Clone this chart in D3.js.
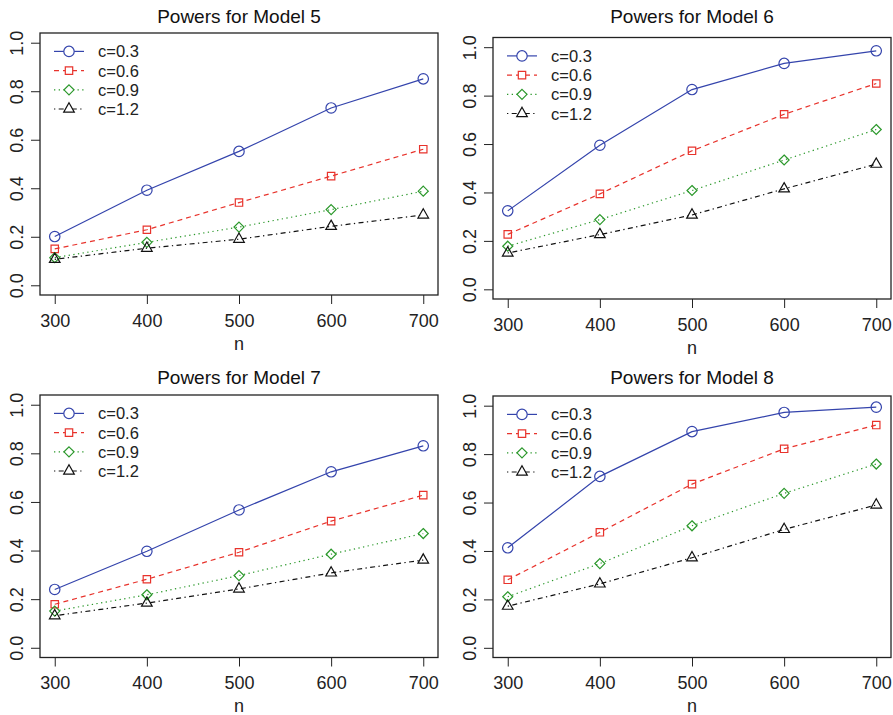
<!DOCTYPE html>
<html>
<head>
<meta charset="utf-8">
<script src="https://cdn.jsdelivr.net/npm/d3@7"></script>
<style>
    body { margin: 0; background: #fff; }
    svg { display: block; font-family: "Liberation Sans", Arial, Helvetica, sans-serif; }
</style>
</head>
<body>
<svg id="chart" width="893" height="715"></svg>
<script>
// sample sizes on the x axis
const nValues = [300, 400, 500, 600, 700];
const yTicks = [0, 0.2, 0.4, 0.6, 0.8, 1.0];
const seriesLabels = ["c=0.3", "c=0.6", "c=0.9", "c=1.2"];
const modelTitles = ["Powers for Model 5", "Powers for Model 6", "Powers for Model 7", "Powers for Model 8"];

// powers, one row per c value
const model5 = [
    [0.201, 0.392, 0.552, 0.731, 0.851],
    [0.150, 0.229, 0.341, 0.450, 0.561],
    [0.114, 0.177, 0.240, 0.312, 0.388],
    [0.107, 0.153, 0.190, 0.243, 0.290]
];
const model6 = [
    [0.324, 0.595, 0.825, 0.933, 0.985],
    [0.227, 0.394, 0.572, 0.723, 0.850],
    [0.178, 0.288, 0.408, 0.534, 0.660],
    [0.150, 0.226, 0.307, 0.415, 0.517]
];
const model7 = [
    [0.240, 0.397, 0.567, 0.724, 0.831],
    [0.179, 0.282, 0.393, 0.521, 0.628],
    [0.151, 0.218, 0.297, 0.385, 0.470],
    [0.132, 0.184, 0.242, 0.308, 0.361]
];
const model8 = [
    [0.413, 0.708, 0.893, 0.972, 0.994],
    [0.281, 0.477, 0.676, 0.822, 0.920],
    [0.211, 0.348, 0.504, 0.638, 0.759],
    [0.172, 0.264, 0.372, 0.489, 0.590]
];
const models = [model5, model6, model7, model8];

// plot boxes (left, top, right, bottom) and title rows
const boxes = [
    {left: 40, top: 33, right: 438, bottom: 295, titleY: 22.6},
    {left: 493, top: 37.5, right: 891, bottom: 299, titleY: 22.6},
    {left: 40, top: 395, right: 438, bottom: 657.5, titleY: 384.2},
    {left: 493, top: 396, right: 891, bottom: 657.5, titleY: 384.2}
];

const styles = [
    {color: "#3444ac", dash: null, shape: "circle"},
    {color: "#e8332c", dash: "5,4", shape: "square"},
    {color: "#2b982b", dash: "1.3,3.4", shape: "diamond"},
    {color: "#111111", dash: "1.3,3.4,5,3.4", shape: "triangle"}
];

function markerPath(shape){
    const p = d3.path();
    if(shape === "circle"){
        p.arc(0, 0, 5.2, 0, 2 * Math.PI);
    }
    else if(shape === "square"){
        p.rect(-3.7, -3.7, 7.4, 7.4);
    }
    else if(shape === "diamond"){
        p.moveTo(0, -5); p.lineTo(5, 0); p.lineTo(0, 5); p.lineTo(-5, 0); p.closePath();
    }
    else {
        p.moveTo(0, -6.2); p.lineTo(5.3, 3.1); p.lineTo(-5.3, 3.1); p.closePath();
    }
    return p.toString();
}

const svg = d3.select("#chart");

models.forEach((model, mi) => {
    const b = boxes[mi];
    const g = svg.append("g");

    const x = d3.scaleLinear().domain([284, 716]).range([b.left, b.right]);
    const y = d3.scaleLinear().domain([-0.04, 1.04]).range([b.bottom, b.top]);

    // x axis
    const xAxis = g.append("g")
        .attr("transform", `translate(0, ${b.bottom})`)
        .call(d3.axisBottom(x).tickValues(nValues).tickSize(9).tickFormat(d3.format("d")));
    xAxis.select(".domain").remove();
    xAxis.selectAll("line").attr("stroke", "#222");
    xAxis.selectAll("text")
        .attr("y", 31.8)
        .attr("dy", null)
        .attr("fill", "#222")
        .style("font-size", "18px")
        .style("font-family", "inherit");

    // y axis, labels rotated like R's default
    const yAxis = g.append("g")
        .attr("transform", `translate(${b.left}, 0)`)
        .call(d3.axisLeft(y).tickValues(yTicks).tickSize(9).tickFormat(d3.format(".1f")));
    yAxis.select(".domain").remove();
    yAxis.selectAll("line").attr("stroke", "#222");
    yAxis.selectAll("text")
        .attr("transform", "rotate(-90)")
        .attr("x", 0)
        .attr("y", -17.5)
        .attr("dy", null)
        .attr("text-anchor", "middle")
        .attr("fill", "#222")
        .style("font-size", "18px")
        .style("font-family", "inherit");

    // box
    g.append("rect")
        .attr("x", b.left).attr("y", b.top)
        .attr("width", b.right - b.left).attr("height", b.bottom - b.top)
        .attr("fill", "none").attr("stroke", "#222").attr("stroke-width", 1.3);

    // titles
    g.append("text")
        .attr("x", (b.left + b.right) / 2).attr("y", b.titleY)
        .attr("text-anchor", "middle")
        .attr("fill", "#111")
        .style("font-size", "19px")
        .text(modelTitles[mi]);
    g.append("text")
        .attr("x", (b.left + b.right) / 2).attr("y", b.bottom + 54.7)
        .attr("text-anchor", "middle")
        .attr("fill", "#222")
        .style("font-size", "18px")
        .text("n");

    const line = d3.line().x((d, i) => x(nValues[i])).y(d => y(d));

    model.forEach((series, si) => {
        const s = styles[si];
        g.append("path")
            .datum(series)
            .attr("d", line)
            .attr("fill", "none")
            .attr("stroke", s.color)
            .attr("stroke-width", 1.2)
            .attr("stroke-dasharray", s.dash);
        g.selectAll(`.pt${si}`)
            .data(series)
            .join("path")
            .attr("class", `pt${si}`)
            .attr("transform", (d, i) => `translate(${x(nValues[i])}, ${y(d)})`)
            .attr("d", markerPath(s.shape))
            .attr("fill", "none")
            .attr("stroke", s.color)
            .attr("stroke-width", 1.2);
    });

    // legend
    const legend = g.append("g").attr("transform", `translate(${b.left}, ${b.top})`);
    seriesLabels.forEach((lab, si) => {
        const s = styles[si];
        const ly = 18.4 + si * 19.2;
        legend.append("line")
            .attr("x1", 14).attr("x2", 44).attr("y1", ly).attr("y2", ly)
            .attr("stroke", s.color).attr("stroke-width", 1.2)
            .attr("stroke-dasharray", s.dash);
        legend.append("path")
            .attr("transform", `translate(29, ${ly})`)
            .attr("d", markerPath(s.shape))
            .attr("fill", "#fff")
            .attr("stroke", s.color)
            .attr("stroke-width", 1.2);
        legend.append("text")
            .attr("x", 58).attr("y", ly + 6)
            .attr("fill", "#222")
            .style("font-size", "16.5px")
            .text(lab);
    });
});
</script>
</body>
</html>
